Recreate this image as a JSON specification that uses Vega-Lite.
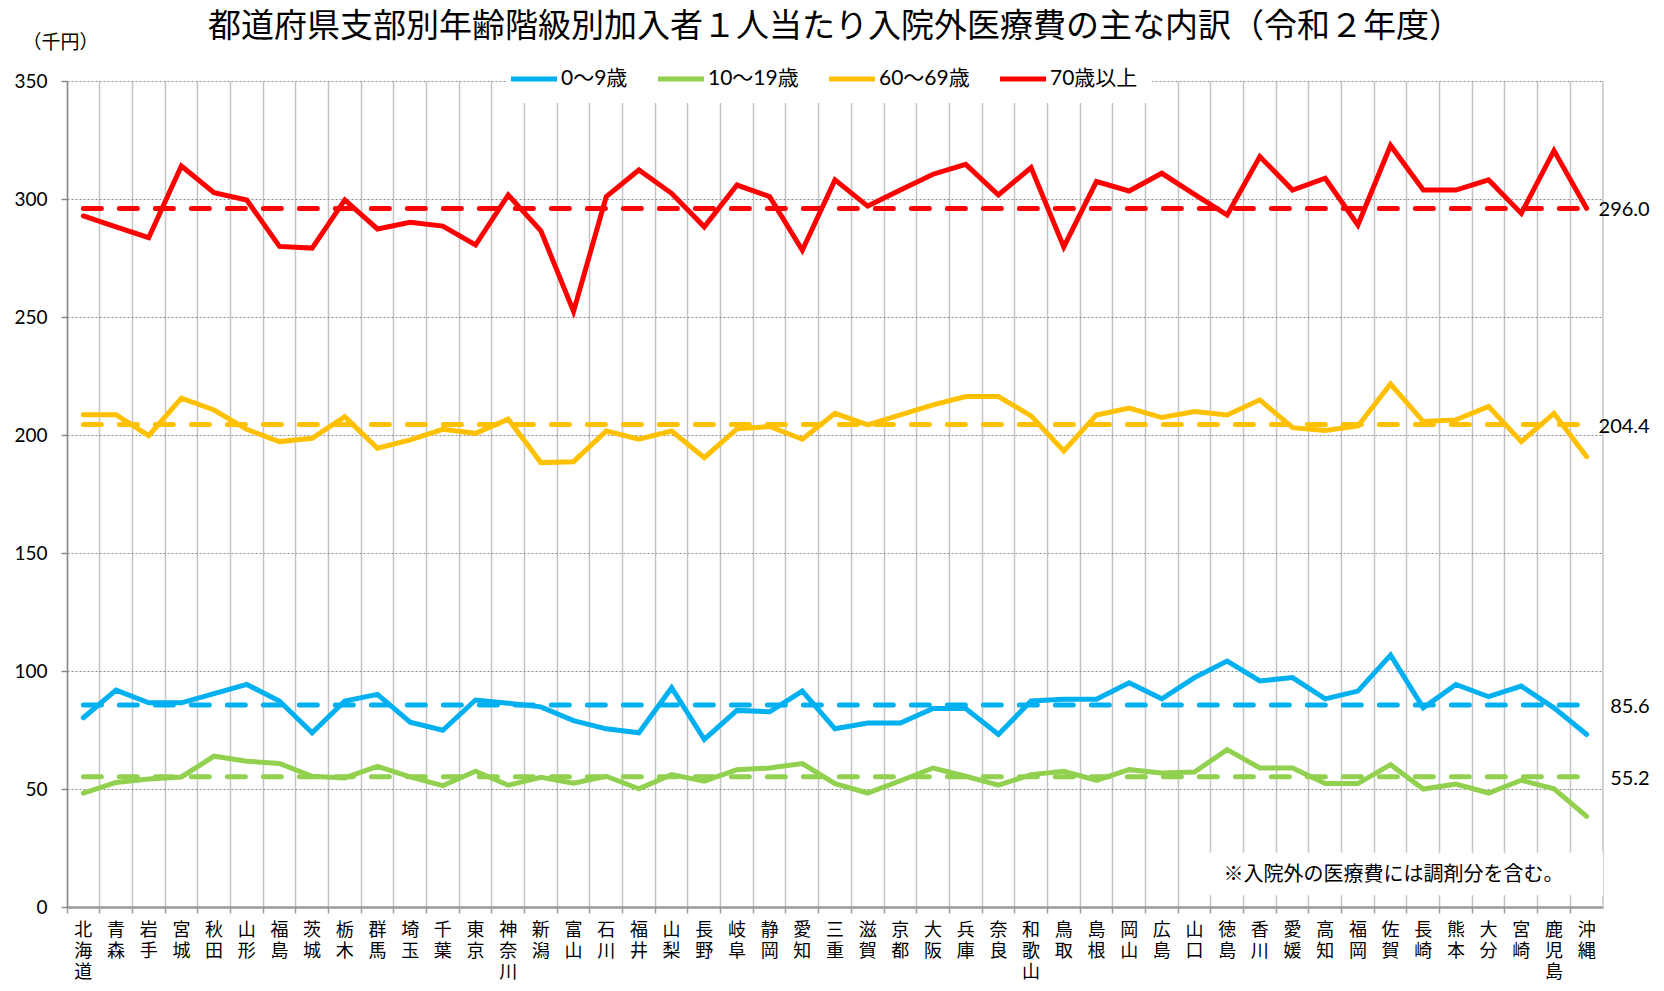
{
  "$schema": "https://vega.github.io/schema/vega-lite/v6.json",
  "width": 1536,
  "height": 826,
  "autosize": {"type": "none"},
  "padding": {"left": 67, "top": 81, "right": 61, "bottom": 84},
  "background": "white",
  "title": {
    "text": "都道府県支部別年齢階級別加入者１人当たり入院外医療費の主な内訳（令和２年度）",
    "font": "Noto Sans CJK JP",
    "fontSize": 33,
    "fontWeight": "normal",
    "color": "black",
    "anchor": "middle",
    "frame": "group",
    "dx": 0,
    "offset": -11
  },
  "config": {
    "view": {"stroke": null}
  },
  "datasets": {
    "avg": [
      {"s": "0〜9歳", "avg": 85.6, "from": "北海道", "to": "沖縄"},
      {"s": "10〜19歳", "avg": 55.2, "from": "北海道", "to": "沖縄"},
      {"s": "60〜69歳", "avg": 204.4, "from": "北海道", "to": "沖縄"},
      {"s": "70歳以上", "avg": 296.0, "from": "北海道", "to": "沖縄"}
    ],
    "main": [
      {"p": "北海道", "s": "0〜9歳", "v": 80.2},
      {"p": "青森", "s": "0〜9歳", "v": 91.9},
      {"p": "岩手", "s": "0〜9歳", "v": 86.5},
      {"p": "宮城", "s": "0〜9歳", "v": 86.5},
      {"p": "秋田", "s": "0〜9歳", "v": 90.4},
      {"p": "山形", "s": "0〜9歳", "v": 94.3},
      {"p": "福島", "s": "0〜9歳", "v": 87.3},
      {"p": "茨城", "s": "0〜9歳", "v": 73.8},
      {"p": "栃木", "s": "0〜9歳", "v": 87.3},
      {"p": "群馬", "s": "0〜9歳", "v": 90.1},
      {"p": "埼玉", "s": "0〜9歳", "v": 78.3},
      {"p": "千葉", "s": "0〜9歳", "v": 74.9},
      {"p": "東京", "s": "0〜9歳", "v": 87.7},
      {"p": "神奈川", "s": "0〜9歳", "v": 86.3},
      {"p": "新潟", "s": "0〜9歳", "v": 84.8},
      {"p": "富山", "s": "0〜9歳", "v": 79.0},
      {"p": "石川", "s": "0〜9歳", "v": 75.5},
      {"p": "福井", "s": "0〜9歳", "v": 73.8},
      {"p": "山梨", "s": "0〜9歳", "v": 92.9},
      {"p": "長野", "s": "0〜9歳", "v": 71.0},
      {"p": "岐阜", "s": "0〜9歳", "v": 83.3},
      {"p": "静岡", "s": "0〜9歳", "v": 82.7},
      {"p": "愛知", "s": "0〜9歳", "v": 91.5},
      {"p": "三重", "s": "0〜9歳", "v": 75.5},
      {"p": "滋賀", "s": "0〜9歳", "v": 78.0},
      {"p": "京都", "s": "0〜9歳", "v": 78.0},
      {"p": "大阪", "s": "0〜9歳", "v": 84.1},
      {"p": "兵庫", "s": "0〜9歳", "v": 84.1},
      {"p": "奈良", "s": "0〜9歳", "v": 73.1},
      {"p": "和歌山", "s": "0〜9歳", "v": 87.3},
      {"p": "鳥取", "s": "0〜9歳", "v": 88.0},
      {"p": "島根", "s": "0〜9歳", "v": 88.0},
      {"p": "岡山", "s": "0〜9歳", "v": 95.0},
      {"p": "広島", "s": "0〜9歳", "v": 88.2},
      {"p": "山口", "s": "0〜9歳", "v": 97.2},
      {"p": "徳島", "s": "0〜9歳", "v": 104.2},
      {"p": "香川", "s": "0〜9歳", "v": 95.8},
      {"p": "愛媛", "s": "0〜9歳", "v": 97.2},
      {"p": "高知", "s": "0〜9歳", "v": 88.2},
      {"p": "福岡", "s": "0〜9歳", "v": 91.5},
      {"p": "佐賀", "s": "0〜9歳", "v": 106.7},
      {"p": "長崎", "s": "0〜9歳", "v": 84.4},
      {"p": "熊本", "s": "0〜9歳", "v": 94.3},
      {"p": "大分", "s": "0〜9歳", "v": 89.1},
      {"p": "宮崎", "s": "0〜9歳", "v": 93.6},
      {"p": "鹿児島", "s": "0〜9歳", "v": 84.4},
      {"p": "沖縄", "s": "0〜9歳", "v": 73.1},
      {"p": "北海道", "s": "10〜19歳", "v": 48.3},
      {"p": "青森", "s": "10〜19歳", "v": 52.8},
      {"p": "岩手", "s": "10〜19歳", "v": 54.2},
      {"p": "宮城", "s": "10〜19歳", "v": 55.1},
      {"p": "秋田", "s": "10〜19歳", "v": 63.9},
      {"p": "山形", "s": "10〜19歳", "v": 61.8},
      {"p": "福島", "s": "10〜19歳", "v": 60.8},
      {"p": "茨城", "s": "10〜19歳", "v": 55.4},
      {"p": "栃木", "s": "10〜19歳", "v": 54.7},
      {"p": "群馬", "s": "10〜19歳", "v": 59.6},
      {"p": "埼玉", "s": "10〜19歳", "v": 55.1},
      {"p": "千葉", "s": "10〜19歳", "v": 51.4},
      {"p": "東京", "s": "10〜19歳", "v": 57.5},
      {"p": "神奈川", "s": "10〜19歳", "v": 51.6},
      {"p": "新潟", "s": "10〜19歳", "v": 55.0},
      {"p": "富山", "s": "10〜19歳", "v": 52.5},
      {"p": "石川", "s": "10〜19歳", "v": 55.4},
      {"p": "福井", "s": "10〜19歳", "v": 50.1},
      {"p": "山梨", "s": "10〜19歳", "v": 56.1},
      {"p": "長野", "s": "10〜19歳", "v": 53.3},
      {"p": "岐阜", "s": "10〜19歳", "v": 58.2},
      {"p": "静岡", "s": "10〜19歳", "v": 58.9},
      {"p": "愛知", "s": "10〜19歳", "v": 60.8},
      {"p": "三重", "s": "10〜19歳", "v": 52.3},
      {"p": "滋賀", "s": "10〜19歳", "v": 48.3},
      {"p": "京都", "s": "10〜19歳", "v": 53.5},
      {"p": "大阪", "s": "10〜19歳", "v": 58.9},
      {"p": "兵庫", "s": "10〜19歳", "v": 55.4},
      {"p": "奈良", "s": "10〜19歳", "v": 51.6},
      {"p": "和歌山", "s": "10〜19歳", "v": 56.1},
      {"p": "鳥取", "s": "10〜19歳", "v": 57.5},
      {"p": "島根", "s": "10〜19歳", "v": 53.7},
      {"p": "岡山", "s": "10〜19歳", "v": 58.2},
      {"p": "広島", "s": "10〜19歳", "v": 56.8},
      {"p": "山口", "s": "10〜19歳", "v": 57.2},
      {"p": "徳島", "s": "10〜19歳", "v": 66.7},
      {"p": "香川", "s": "10〜19歳", "v": 58.9},
      {"p": "愛媛", "s": "10〜19歳", "v": 58.9},
      {"p": "高知", "s": "10〜19歳", "v": 52.3},
      {"p": "福岡", "s": "10〜19歳", "v": 52.3},
      {"p": "佐賀", "s": "10〜19歳", "v": 60.3},
      {"p": "長崎", "s": "10〜19歳", "v": 50.0},
      {"p": "熊本", "s": "10〜19歳", "v": 52.1},
      {"p": "大分", "s": "10〜19歳", "v": 48.3},
      {"p": "宮崎", "s": "10〜19歳", "v": 53.7},
      {"p": "鹿児島", "s": "10〜19歳", "v": 50.1},
      {"p": "沖縄", "s": "10〜19歳", "v": 38.4},
      {"p": "北海道", "s": "60〜69歳", "v": 208.6},
      {"p": "青森", "s": "60〜69歳", "v": 208.6},
      {"p": "岩手", "s": "60〜69歳", "v": 199.7},
      {"p": "宮城", "s": "60〜69歳", "v": 215.6},
      {"p": "秋田", "s": "60〜69歳", "v": 210.6},
      {"p": "山形", "s": "60〜69歳", "v": 202.4},
      {"p": "福島", "s": "60〜69歳", "v": 197.2},
      {"p": "茨城", "s": "60〜69歳", "v": 198.6},
      {"p": "栃木", "s": "60〜69歳", "v": 207.8},
      {"p": "群馬", "s": "60〜69歳", "v": 194.4},
      {"p": "埼玉", "s": "60〜69歳", "v": 197.9},
      {"p": "千葉", "s": "60〜69歳", "v": 202.4},
      {"p": "東京", "s": "60〜69歳", "v": 200.7},
      {"p": "神奈川", "s": "60〜69歳", "v": 206.7},
      {"p": "新潟", "s": "60〜69歳", "v": 188.3},
      {"p": "富山", "s": "60〜69歳", "v": 188.7},
      {"p": "石川", "s": "60〜69歳", "v": 201.7},
      {"p": "福井", "s": "60〜69歳", "v": 198.2},
      {"p": "山梨", "s": "60〜69歳", "v": 201.7},
      {"p": "長野", "s": "60〜69歳", "v": 190.4},
      {"p": "岐阜", "s": "60〜69歳", "v": 202.6},
      {"p": "静岡", "s": "60〜69歳", "v": 203.6},
      {"p": "愛知", "s": "60〜69歳", "v": 198.2},
      {"p": "三重", "s": "60〜69歳", "v": 209.2},
      {"p": "滋賀", "s": "60〜69歳", "v": 204.3},
      {"p": "京都", "s": "60〜69歳", "v": 208.5},
      {"p": "大阪", "s": "60〜69歳", "v": 212.8},
      {"p": "兵庫", "s": "60〜69歳", "v": 216.3},
      {"p": "奈良", "s": "60〜69歳", "v": 216.3},
      {"p": "和歌山", "s": "60〜69歳", "v": 208.1},
      {"p": "鳥取", "s": "60〜69歳", "v": 193.2},
      {"p": "島根", "s": "60〜69歳", "v": 208.5},
      {"p": "岡山", "s": "60〜69歳", "v": 211.4},
      {"p": "広島", "s": "60〜69歳", "v": 207.4},
      {"p": "山口", "s": "60〜69歳", "v": 209.9},
      {"p": "徳島", "s": "60〜69歳", "v": 208.5},
      {"p": "香川", "s": "60〜69歳", "v": 214.9},
      {"p": "愛媛", "s": "60〜69歳", "v": 203.1},
      {"p": "高知", "s": "60〜69歳", "v": 201.9},
      {"p": "福岡", "s": "60〜69歳", "v": 203.8},
      {"p": "佐賀", "s": "60〜69歳", "v": 221.6},
      {"p": "長崎", "s": "60〜69歳", "v": 205.7},
      {"p": "熊本", "s": "60〜69歳", "v": 206.4},
      {"p": "大分", "s": "60〜69歳", "v": 212.1},
      {"p": "宮崎", "s": "60〜69歳", "v": 197.2},
      {"p": "鹿児島", "s": "60〜69歳", "v": 209.2},
      {"p": "沖縄", "s": "60〜69歳", "v": 190.8},
      {"p": "北海道", "s": "70歳以上", "v": 292.8},
      {"p": "青森", "s": "70歳以上", "v": 288.2},
      {"p": "岩手", "s": "70歳以上", "v": 283.6},
      {"p": "宮城", "s": "70歳以上", "v": 314.0},
      {"p": "秋田", "s": "70歳以上", "v": 302.7},
      {"p": "山形", "s": "70歳以上", "v": 299.6},
      {"p": "福島", "s": "70歳以上", "v": 279.9},
      {"p": "茨城", "s": "70歳以上", "v": 279.2},
      {"p": "栃木", "s": "70歳以上", "v": 299.6},
      {"p": "群馬", "s": "70歳以上", "v": 287.3},
      {"p": "埼玉", "s": "70歳以上", "v": 290.1},
      {"p": "千葉", "s": "70歳以上", "v": 288.5},
      {"p": "東京", "s": "70歳以上", "v": 280.5},
      {"p": "神奈川", "s": "70歳以上", "v": 301.7},
      {"p": "新潟", "s": "70歳以上", "v": 286.5},
      {"p": "富山", "s": "70歳以上", "v": 252.4},
      {"p": "石川", "s": "70歳以上", "v": 301.0},
      {"p": "福井", "s": "70歳以上", "v": 312.3},
      {"p": "山梨", "s": "70歳以上", "v": 302.4},
      {"p": "長野", "s": "70歳以上", "v": 288.2},
      {"p": "岐阜", "s": "70歳以上", "v": 305.9},
      {"p": "静岡", "s": "70歳以上", "v": 301.0},
      {"p": "愛知", "s": "70歳以上", "v": 278.3},
      {"p": "三重", "s": "70歳以上", "v": 308.1},
      {"p": "滋賀", "s": "70歳以上", "v": 297.0},
      {"p": "京都", "s": "70歳以上", "v": 303.8},
      {"p": "大阪", "s": "70歳以上", "v": 310.5},
      {"p": "兵庫", "s": "70歳以上", "v": 314.7},
      {"p": "奈良", "s": "70歳以上", "v": 301.7},
      {"p": "和歌山", "s": "70歳以上", "v": 313.3},
      {"p": "鳥取", "s": "70歳以上", "v": 279.7},
      {"p": "島根", "s": "70歳以上", "v": 307.4},
      {"p": "岡山", "s": "70歳以上", "v": 303.4},
      {"p": "広島", "s": "70歳以上", "v": 310.9},
      {"p": "山口", "s": "70歳以上", "v": 302.0},
      {"p": "徳島", "s": "70歳以上", "v": 293.2},
      {"p": "香川", "s": "70歳以上", "v": 318.0},
      {"p": "愛媛", "s": "70歳以上", "v": 303.8},
      {"p": "高知", "s": "70歳以上", "v": 308.8},
      {"p": "福岡", "s": "70歳以上", "v": 289.0},
      {"p": "佐賀", "s": "70歳以上", "v": 322.7},
      {"p": "長崎", "s": "70歳以上", "v": 303.8},
      {"p": "熊本", "s": "70歳以上", "v": 303.8},
      {"p": "大分", "s": "70歳以上", "v": 308.1},
      {"p": "宮崎", "s": "70歳以上", "v": 293.9},
      {"p": "鹿児島", "s": "70歳以上", "v": 320.5},
      {"p": "沖縄", "s": "70歳以上", "v": 296.0}
    ]
  },
  "layer": [
    {
      "data": {"name": "main"},
      "mark": {"type": "line", "strokeWidth": 5, "strokeCap": "round", "strokeJoin": "miter"},
      "encoding": {
        "x": {
          "field": "p",
          "type": "nominal",
          "sort": null,
          "bandPosition": 0.5,
          "scale": {
            "type": "band",
            "paddingInner": 0,
            "paddingOuter": 0,
            "domain": ["北海道","青森","岩手","宮城","秋田","山形","福島","茨城","栃木","群馬","埼玉","千葉","東京","神奈川","新潟","富山","石川","福井","山梨","長野","岐阜","静岡","愛知","三重","滋賀","京都","大阪","兵庫","奈良","和歌山","鳥取","島根","岡山","広島","山口","徳島","香川","愛媛","高知","福岡","佐賀","長崎","熊本","大分","宮崎","鹿児島","沖縄"]
          },
          "axis": {
            "title": null,
            "bandPosition": 0,
            "grid": true,
            "gridColor": "#c4c4c4",
            "gridWidth": 1.5,
            "domainColor": "#9a9a9a",
            "domainWidth": 2.5,
            "tickColor": "#9a9a9a",
            "tickSize": 6,
            "tickWidth": 1.5,
            "labelExpr": "split(datum.label, '')",
            "labelFont": "Noto Sans CJK JP",
            "labelFontSize": 18,
            "labelLineHeight": 21,
            "labelAngle": 0,
            "labelAlign": "center",
            "labelBaseline": "top",
            "labelPadding": 8,
            "labelColor": "black",
            "labelOverlap": false,
            "labelBound": false,
            "labelFlush": false
          }
        },
        "y": {
          "field": "v",
          "type": "quantitative",
          "scale": {"domain": [0, 350], "nice": false, "zero": true},
          "axis": {
            "title": "（千円）",
            "titleAngle": 0,
            "titleX": -7,
            "titleY": -39,
            "titleAlign": "center",
            "titleBaseline": "middle",
            "titleFont": "Noto Sans CJK JP",
            "titleFontSize": 19,
            "titleFontWeight": "normal",
            "titleColor": "black",
            "values": [0, 50, 100, 150, 200, 250, 300, 350],
            "grid": true,
            "gridColor": "#8a8a8a",
            "gridDash": [2, 2],
            "gridWidth": 1,
            "domainColor": "#8a8a8a",
            "domainWidth": 1.5,
            "tickColor": "#8a8a8a",
            "tickSize": 6,
            "tickWidth": 1.5,
            "labelFont": "Lato",
            "labelFontSize": 19,
            "labelPadding": 14,
            "labelColor": "black"
          }
        },
        "color": {
          "field": "s",
          "type": "nominal",
          "scale": {
            "domain": ["0〜9歳", "10〜19歳", "60〜69歳", "70歳以上"],
            "range": ["#00B0F0", "#92D050", "#FFC000", "#FF0000"]
          },
          "legend": {
            "title": null,
            "orient": "none",
            "direction": "horizontal",
            "legendX": 439,
            "legendY": -30,
            "symbolType": "M-2,0H2",
            "symbolSize": 529,
            "symbolStrokeWidth": 5,
            "labelFont": "Lato, Noto Sans CJK JP",
            "labelFontSize": 21,
            "labelColor": "black",
            "labelOffset": 13,
            "labelLimit": 300,
            "columnPadding": 20,
            "padding": 14,
            "fillColor": "white"
          }
        }
      }
    },
    {
      "data": {"values": [{}]},
      "mark": {"type": "rule", "color": "#c4c4c4", "strokeWidth": 1.5},
      "encoding": {
        "x": {"datum": "沖縄", "type": "nominal", "bandPosition": 1}
      }
    },
    {
      "data": {"values": [{}]},
      "mark": {"type": "rect", "color": "white"},
      "encoding": {
        "x": {"datum": "山口", "type": "nominal", "bandPosition": 0.4},
        "x2": {"datum": "沖縄", "bandPosition": 1},
        "y": {"datum": 5, "type": "quantitative"},
        "y2": {"datum": 23}
      }
    },
    {
      "data": {"name": "avg"},
      "mark": {"type": "rule", "strokeWidth": 5, "strokeDash": [18, 18], "strokeCap": "round"},
      "encoding": {
        "x": {"field": "from", "type": "nominal"},
        "x2": {"field": "to"},
        "y": {"field": "avg", "type": "quantitative"},
        "stroke": {
          "field": "s",
          "type": "nominal",
          "scale": {
            "domain": ["0〜9歳", "10〜19歳", "60〜69歳", "70歳以上"],
            "range": ["#00B0F0", "#92D050", "#FFC000", "#FF0000"]
          },
          "legend": null
        }
      }
    },
    {
      "data": {"name": "avg"},
      "mark": {"type": "text", "align": "right", "baseline": "middle", "dx": 63, "dy": 2, "font": "Lato", "fontSize": 20, "color": "black"},
      "encoding": {
        "x": {"field": "to", "type": "nominal"},
        "y": {"field": "avg", "type": "quantitative"},
        "text": {"field": "avg", "type": "quantitative", "format": ".1f"}
      }
    },
    {
      "data": {"values": [{}]},
      "mark": {"type": "text", "text": "※入院外の医療費には調剤分を含む。", "align": "center", "baseline": "middle", "dx": 3, "font": "Noto Sans CJK JP", "fontSize": 20, "color": "black"},
      "encoding": {
        "x": {"datum": "佐賀", "type": "nominal"},
        "y": {"datum": 13.6, "type": "quantitative"}
      }
    }
  ]
}
